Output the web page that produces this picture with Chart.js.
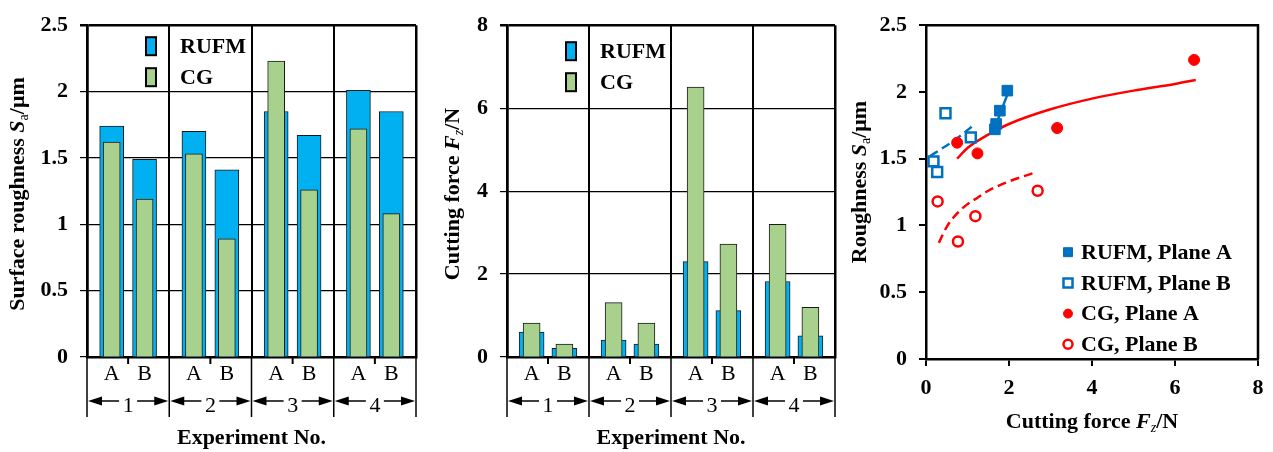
<!DOCTYPE html>
<html>
<head>
<meta charset="utf-8">
<script src="https://cdn.jsdelivr.net/npm/chart.js@4.4.1/dist/chart.umd.min.js"></script>
<style>
  body { margin: 0; background: #fff; }
  #wrap { position: relative; width: 1273px; height: 452px; overflow: hidden; }
  canvas { position: absolute; top: 0; }
</style>
</head>
<body>
<div id="wrap">
  <canvas id="rough" width="430" height="452" style="left:0"></canvas>
  <canvas id="force" width="410" height="452" style="left:430px"></canvas>
  <canvas id="scatter" width="433" height="452" style="left:840px"></canvas>
</div>
<script>
// experiments 1-4, each measured on plane A and plane B
const groups = ['1', '2', '3', '4'];
const planes = ['A', 'B'];

// order: 1A, 1B, 2A, 2B, 3A, 3B, 4A, 4B
const roughRUFM = [1.74, 1.49, 1.70, 1.41, 1.85, 1.67, 2.01, 1.85];
const roughCG   = [1.62, 1.19, 1.53, 0.89, 2.23, 1.26, 1.72, 1.08];
const forceRUFM = [0.60, 0.21, 0.41, 0.31, 2.30, 1.12, 1.82, 0.51];
const forceCG   = [0.82, 0.31, 1.31, 0.82, 6.51, 2.72, 3.20, 1.20];

const roughTicks = [0, 0.5, 1, 1.5, 2, 2.5];
const forceTicks = [0, 2, 4, 6, 8];

// scatter: [cutting force, roughness]
const rufmPlaneA = [[1.66, 1.72], [1.69, 1.76], [1.78, 1.86], [1.96, 2.01]];
const rufmPlaneB = [[0.47, 1.84], [1.08, 1.66], [0.18, 1.48], [0.27, 1.40]];
const cgPlaneA   = [[0.75, 1.62], [1.24, 1.54], [3.16, 1.73], [6.46, 2.24]];
const cgPlaneB   = [[0.28, 1.18], [0.77, 0.88], [1.19, 1.07], [2.69, 1.26]];

// trend lines
const rufmAFit = [[1.62, 1.70], [1.80, 1.85], [2.01, 2.02]];
const rufmBFit = [[0.10, 1.52], [0.40, 1.58], [0.70, 1.64], [1.10, 1.74]];
const cgAFit   = [[0.75, 1.50], [1.0, 1.58], [1.5, 1.68], [2, 1.76], [3, 1.87], [4, 1.95], [5, 2.01], [6, 2.06], [6.5, 2.09]];
const cgBFit   = [[0.31, 0.87], [0.5, 0.99], [0.75, 1.09], [1.0, 1.16], [1.25, 1.21], [1.5, 1.26], [2, 1.33], [2.66, 1.40]];

const BLUE = '#00b0f0';
const GREEN = '#a9d18e';
const DBLUE = '#0070c0';
const RED = '#ff0000';
const FAM = "'Liberation Serif', 'Times New Roman', serif";
const B22 = 'bold 22px ' + FAM;
const BI22 = 'bold italic 22px ' + FAM;
const R22 = '22px ' + FAM;

// where plane A / B sit inside one experiment slot
const planePos = [0.3, 0.7];

const xy = pts => pts.map(p => ({ x: p[0], y: p[1] }));
const barPoints = vals => vals.map((v, i) => ({ x: Math.floor(i / 2) + planePos[i % 2], y: v }));
const tickVal = c => (c && c.tick ? c.tick.value : NaN);

function drawRich(ctx, segs, cx, cy, angle) {
  ctx.save();
  ctx.translate(cx, cy);
  ctx.rotate(angle);
  let total = 0;
  segs.forEach(s => { ctx.font = s.font; s.w = ctx.measureText(s.t).width; total += s.w; });
  let x = -total / 2;
  ctx.textAlign = 'left';
  ctx.textBaseline = 'middle';
  ctx.fillStyle = '#000';
  segs.forEach(s => { ctx.font = s.font; ctx.fillText(s.t, x, s.dy || 0); x += s.w; });
  ctx.restore();
}

function arrow(ctx, x1, x2, y) {
  const d = Math.sign(x2 - x1);
  ctx.beginPath();
  ctx.moveTo(x1, y);
  ctx.lineTo(x2 - d * 6, y);
  ctx.stroke();
  ctx.beginPath();
  ctx.moveTo(x2, y);
  ctx.lineTo(x2 - d * 14, y - 4.5);
  ctx.lineTo(x2 - d * 14, y + 4.5);
  ctx.closePath();
  ctx.fill();
}

const sa = [
  { t: 'S', font: BI22 },
  { t: 'a', font: '14px ' + FAM, dy: 6 },
  { t: '/μm', font: B22 }
];
const fz = [
  { t: 'F', font: BI22 },
  { t: 'z', font: 'italic 14px ' + FAM, dy: 6 },
  { t: '/N', font: B22 }
];

function barPanel(id, rufm, cg, ticks, yWidth, yTitle, yTitleX, legendTop, barW) {
  const yMax = ticks[ticks.length - 1];
  const xTicks = [];
  groups.forEach((g, i) => { xTicks.push(i); planePos.forEach(p => xTicks.push(i + p)); });
  xTicks.push(groups.length);

  const decor = {
    id: 'decor',
    afterDraw(chart) {
      const ctx = chart.ctx;
      const xs = chart.scales.x;
      const area = chart.chartArea;
      const y0 = area.bottom;
      ctx.save();
      ctx.strokeStyle = '#000';
      ctx.fillStyle = '#000';
      // separators below the axis
      ctx.lineWidth = 1.5;
      for (let i = 0; i <= groups.length; i++) {
        const px = xs.getPixelForValue(i);
        ctx.beginPath(); ctx.moveTo(px, y0); ctx.lineTo(px, y0 + 60); ctx.stroke();
      }
      // small tick between A and B
      ctx.lineWidth = 2;
      groups.forEach((g, i) => {
        const px = xs.getPixelForValue(i + 0.5);
        ctx.beginPath(); ctx.moveTo(px, y0); ctx.lineTo(px, y0 + 7); ctx.stroke();
      });
      // experiment numbers with arrows
      ctx.lineWidth = 1.5;
      groups.forEach((g, i) => {
        const l = xs.getPixelForValue(i), r = xs.getPixelForValue(i + 1), c = xs.getPixelForValue(i + 0.5);
        arrow(ctx, c - 9, l + 1, y0 + 44);
        arrow(ctx, c + 9, r - 1, y0 + 44);
        ctx.font = R22;
        ctx.textAlign = 'center';
        ctx.textBaseline = 'middle';
        ctx.fillText(g, c, y0 + 49);
      });
      // legend
      const lx = area.left + 59;
      chart.data.datasets.forEach((ds, k) => {
        const ty = area.top + legendTop + k * 31;
        ctx.fillStyle = ds.backgroundColor;
        ctx.fillRect(lx, ty, 10, 18);
        ctx.lineWidth = 2;
        ctx.strokeRect(lx, ty, 10, 18);
        ctx.fillStyle = '#000';
        ctx.font = B22;
        ctx.textAlign = 'left';
        ctx.textBaseline = 'middle';
        ctx.fillText(ds.label, lx + 34, ty + 10);
      });
      ctx.restore();
      drawRich(ctx, [{ t: 'Experiment No.', font: B22 }], (area.left + area.right) / 2, 438, 0);
      drawRich(ctx, yTitle, yTitleX, 194, -Math.PI / 2);
    }
  };

  new Chart(document.getElementById(id), {
    type: 'bar',
    data: {
      datasets: [
        // RUFM behind (higher order is drawn first), CG in front
        { label: 'RUFM', data: barPoints(rufm), backgroundColor: BLUE, borderColor: '#1a1a1a', borderWidth: 1, barThickness: barW, order: 2 },
        { label: 'CG', data: barPoints(cg), backgroundColor: GREEN, borderColor: '#1a1a1a', borderWidth: 1, barThickness: 17, order: 1 }
      ]
    },
    options: {
      responsive: false,
      animation: false,
      layout: { padding: { top: 20, right: id === 'rough' ? 14 : 5, left: 0, bottom: 0 } },
      datasets: { bar: { grouped: false } },
      plugins: { legend: { display: false }, tooltip: { enabled: false } },
      scales: {
        x: {
          type: 'linear', min: 0, max: groups.length, offset: false,
          afterBuildTicks: s => { s.ticks = xTicks.map(v => ({ value: v })); },
          afterFit: s => { s.height = 95; },
          ticks: {
            autoSkip: false, maxRotation: 0, padding: 4, color: '#000', font: { family: FAM, size: 22 },
            callback: v => {
              const f = Math.round((v - Math.floor(v)) * 10) / 10;
              const k = planePos.indexOf(f);
              return k < 0 ? '' : planes[k];
            }
          },
          grid: {
            offset: false,
            drawTicks: false,
            color: c => Number.isInteger(tickVal(c)) ? '#000' : 'rgba(0,0,0,0)',
            lineWidth: c => (tickVal(c) === 0 || tickVal(c) === groups.length) ? 2.5 : 2
          },
          border: { color: '#000', width: 2.5 }
        },
        y: {
          min: 0, max: yMax,
          afterBuildTicks: s => { s.ticks = ticks.map(v => ({ value: v })); },
          afterFit: s => { s.width = yWidth; },
          ticks: { padding: 12, color: '#000', font: { family: FAM, size: 22, weight: 'bold' }, callback: v => String(v) },
          grid: {
            color: '#000', tickColor: '#000', tickLength: 7,
            lineWidth: c => tickVal(c) === yMax ? 2.5 : 1.2
          },
          border: { color: '#000', width: 2.5 }
        }
      }
    },
    plugins: [decor]
  });
}

barPanel('rough', roughRUFM, roughCG, roughTicks, 87,
  [{ t: 'Surface roughness ', font: B22 }].concat(sa), 18, 12, 24);
barPanel('force', forceRUFM, forceCG, forceTicks, 77,
  [{ t: 'Cutting force ', font: B22 }].concat(fz), 23, 17, 25);

// scatter panel
const marks = [
  { label: 'RUFM, Plane A', data: xy(rufmPlaneA), pointStyle: 'rect', pointRadius: 7.5, backgroundColor: DBLUE, borderColor: DBLUE, borderWidth: 1 },
  { label: 'RUFM, Plane B', data: xy(rufmPlaneB), pointStyle: 'rect', pointRadius: 7, backgroundColor: '#fff', borderColor: DBLUE, borderWidth: 2.5 },
  { label: 'CG, Plane A', data: xy(cgPlaneA), pointStyle: 'circle', pointRadius: 5.5, backgroundColor: RED, borderColor: RED, borderWidth: 1 },
  { label: 'CG, Plane B', data: xy(cgPlaneB), pointStyle: 'circle', pointRadius: 5, backgroundColor: '#fff', borderColor: RED, borderWidth: 2.5 }
];
const fitLine = (pts, color, dash) => ({
  label: '', data: xy(pts), showLine: true, pointRadius: 0, borderColor: color, borderWidth: 2.5,
  borderDash: dash, cubicInterpolationMode: 'monotone', fill: false, order: 5
});

const scatterDecor = {
  id: 'scatterDecor',
  afterDraw(chart) {
    const ctx = chart.ctx;
    const a = chart.chartArea;
    ctx.save();
    ctx.strokeStyle = '#000';
    ctx.lineWidth = 2.5;
    ctx.beginPath();
    ctx.moveTo(a.left, a.top); ctx.lineTo(a.right, a.top); ctx.lineTo(a.right, a.bottom);
    ctx.stroke();
    // legend
    const lx = a.left + 142;
    marks.forEach((m, k) => {
      const cy = a.top + 227 + k * 30.7;
      ctx.lineWidth = m.borderWidth;
      ctx.strokeStyle = m.borderColor;
      ctx.fillStyle = m.backgroundColor;
      ctx.beginPath();
      if (m.pointStyle === 'rect') {
        ctx.rect(lx - 4.5, cy - 4.5, 9, 9);
      } else {
        ctx.arc(lx, cy, 4.5, 0, Math.PI * 2);
      }
      ctx.fill();
      ctx.stroke();
      ctx.fillStyle = '#000';
      ctx.font = B22;
      ctx.textAlign = 'left';
      ctx.textBaseline = 'middle';
      ctx.fillText(m.label, lx + 13, cy + 1);
    });
    ctx.restore();
    drawRich(ctx, [{ t: 'Cutting force ', font: B22 }].concat(fz), (a.left + a.right) / 2, 422, 0);
    drawRich(ctx, [{ t: 'Roughness ', font: B22 }].concat(sa), 20, 182, -Math.PI / 2);
  }
};

new Chart(document.getElementById('scatter'), {
  type: 'scatter',
  data: {
    datasets: marks.concat([
      fitLine(rufmAFit, DBLUE, []),
      fitLine(rufmBFit, DBLUE, [9, 5]),
      fitLine(cgAFit, RED, []),
      fitLine(cgBFit, RED, [9, 5])
    ])
  },
  options: {
    responsive: false,
    animation: false,
    layout: { padding: { top: 15, right: 15, left: 0, bottom: 0 } },
    plugins: { legend: { display: false }, tooltip: { enabled: false } },
    scales: {
      x: {
        type: 'linear', min: 0, max: 8,
        afterBuildTicks: s => { s.ticks = forceTicks.map(v => ({ value: v })); },
        afterFit: s => { s.height = 93; },
        ticks: { padding: 9, color: '#000', font: { family: FAM, size: 22, weight: 'bold' }, callback: v => String(v) },
        grid: { drawOnChartArea: false, tickColor: '#000', tickLength: 7, lineWidth: 2 },
        border: { color: '#000', width: 2.5 }
      },
      y: {
        min: 0, max: 2.5,
        afterBuildTicks: s => { s.ticks = roughTicks.map(v => ({ value: v })); },
        afterFit: s => { s.width = 86; },
        ticks: { padding: 12, color: '#000', font: { family: FAM, size: 22, weight: 'bold' }, callback: v => String(v) },
        grid: { drawOnChartArea: false, tickColor: '#000', tickLength: 7, lineWidth: 2 },
        border: { color: '#000', width: 2.5 }
      }
    }
  },
  plugins: [scatterDecor]
});
</script>
</body>
</html>
